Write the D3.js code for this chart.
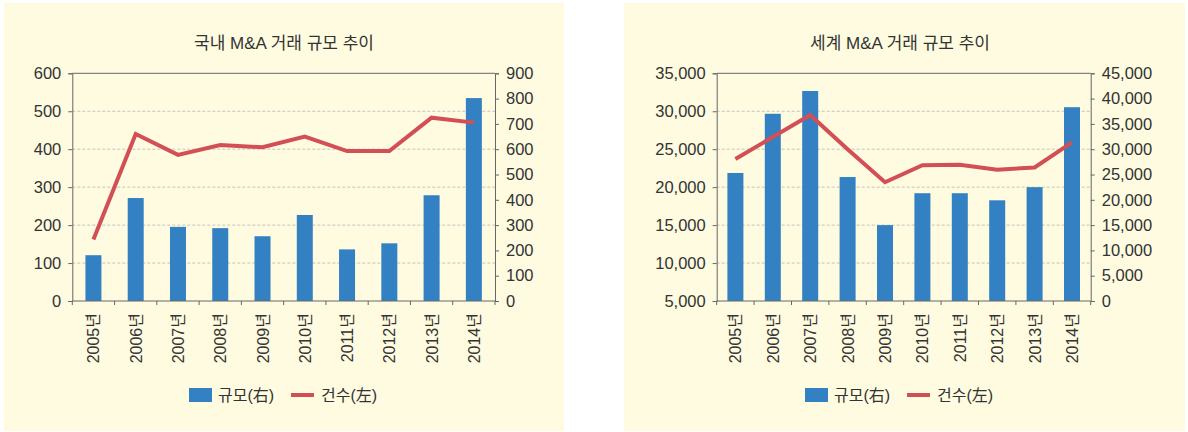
<!DOCTYPE html>
<html>
<head>
<meta charset="utf-8">
<script src="https://cdn.jsdelivr.net/npm/d3@7.9.0/dist/d3.min.js"></script>
<style>
  body { margin: 0; background: #fff; }
  svg { display: block; font-family: "Liberation Sans", "Noto Sans CJK KR", sans-serif; }
  .tick text { fill: #333; }
</style>
</head>
<body>
<svg id="chart" width="1188" height="432"></svg>
<script>
// categories
const years = ['2005년', '2006년', '2007년', '2008년', '2009년', '2010년', '2011년', '2012년', '2013년', '2014년'];

// 국내 M&A
const domesticVolume = [181, 407, 293, 288, 256, 340, 204, 228, 418, 802];   // 규모 (right axis)
const domesticCount = [162, 440, 385, 411, 405, 433, 395, 395, 483, 470];    // 건수 (left axis)

// 세계 M&A
const worldVolume = [25300, 37000, 41500, 24500, 15000, 21300, 21300, 19900, 22500, 38300];
const worldCount = [23700, 26600, 29500, 25000, 20650, 22900, 22950, 22300, 22600, 25900];

// axis tick values
const domesticLeftTicks = [0, 100, 200, 300, 400, 500, 600];
const domesticRightTicks = [0, 100, 200, 300, 400, 500, 600, 700, 800, 900];
const worldLeftTicks = [5000, 10000, 15000, 20000, 25000, 30000, 35000];
const worldRightTicks = [0, 5000, 10000, 15000, 20000, 25000, 30000, 35000, 40000, 45000];

const legendLabels = ['규모(右)', '건수(左)'];

const barColor = '#3381c3';
const lineColor = '#d34f56';
const bgColor = '#fefbe0';
const axisColor = '#666';

const svg = d3.select('#chart');

function drawPanel(opts) {
  const g = svg.append('g');

  // panel background
  g.append('rect')
    .attr('x', opts.panel[0]).attr('y', 3)
    .attr('width', opts.panel[1] - opts.panel[0]).attr('height', 428)
    .attr('fill', bgColor);

  const top = 73.3, bottom = 301;
  const x = d3.scaleBand().domain(years).range([opts.plot[0], opts.plot[1]]).padding(0);
  const yL = d3.scaleLinear().domain(d3.extent(opts.leftTicks)).range([bottom, top]);
  const yR = d3.scaleLinear().domain(d3.extent(opts.rightTicks)).range([bottom, top]);
  const fmt = d3.format(',');

  // title
  g.append('text')
    .attr('x', opts.titleX).attr('y', 49)
    .attr('text-anchor', 'middle')
    .attr('font-size', 17)
    .attr('fill', '#333')
    .text(opts.title);

  // gridlines (left axis ticks)
  g.append('g')
    .selectAll('line')
    .data(opts.leftTicks.slice(1, -1))
    .join('line')
    .attr('x1', opts.plot[0]).attr('x2', opts.plot[1])
    .attr('y1', d => yL(d)).attr('y2', d => yL(d))
    .attr('stroke', '#c4c4c0')
    .attr('stroke-dasharray', '3,2');

  // bars
  const barW = 16;
  g.append('g')
    .selectAll('rect')
    .data(opts.bars)
    .join('rect')
    .attr('x', (d, i) => x(years[i]) + x.bandwidth() / 2 - barW / 2)
    .attr('y', d => yR(d))
    .attr('width', barW)
    .attr('height', d => bottom - yR(d))
    .attr('fill', barColor);

  // line
  const line = d3.line()
    .x((d, i) => x(years[i]) + x.bandwidth() / 2)
    .y(d => yL(d));
  g.append('path')
    .datum(opts.line)
    .attr('d', line)
    .attr('fill', 'none')
    .attr('stroke', lineColor)
    .attr('stroke-width', 4)
    .attr('stroke-linejoin', 'miter');

  // top border
  g.append('line')
    .attr('x1', opts.plot[0]).attr('x2', opts.plot[1])
    .attr('y1', top).attr('y2', top)
    .attr('stroke', axisColor);

  // left axis
  const left = g.append('g')
    .attr('transform', `translate(${opts.plot[0]},0)`)
    .call(d3.axisLeft(yL).tickValues(opts.leftTicks).tickFormat(fmt).tickSize(4).tickPadding(7));
  // right axis
  const right = g.append('g')
    .attr('transform', `translate(${opts.plot[1]},0)`)
    .call(d3.axisRight(yR).tickValues(opts.rightTicks).tickFormat(fmt).tickSize(4).tickPadding(7));
  [left, right].forEach(a => {
    a.selectAll('path, line').attr('stroke', axisColor);
    a.selectAll('text').attr('font-size', 16.5).attr('fill', '#333');
  });

  // bottom axis: ticks on band boundaries
  g.append('line')
    .attr('x1', opts.plot[0]).attr('x2', opts.plot[1])
    .attr('y1', bottom).attr('y2', bottom)
    .attr('stroke', axisColor);
  g.append('g')
    .selectAll('line')
    .data(d3.range(years.length + 1))
    .join('line')
    .attr('x1', i => opts.plot[0] + i * x.step())
    .attr('x2', i => opts.plot[0] + i * x.step())
    .attr('y1', bottom).attr('y2', bottom + 4)
    .attr('stroke', axisColor);
  g.append('g')
    .selectAll('text')
    .data(years)
    .join('text')
    .attr('transform', d => `translate(${x(d) + x.bandwidth() / 2 + 6},${bottom + 12}) rotate(-90)`)
    .attr('text-anchor', 'end')
    .attr('font-size', 16)
    .attr('fill', '#333')
    .text(d => d);

  // legend
  const lx = opts.titleX - 95, ly = 395;
  g.append('rect')
    .attr('x', lx).attr('y', ly - 7)
    .attr('width', 23).attr('height', 14)
    .attr('fill', barColor);
  g.append('text')
    .attr('x', lx + 29).attr('y', ly + 6)
    .attr('font-size', 16).attr('fill', '#333')
    .text(legendLabels[0]);
  g.append('line')
    .attr('x1', lx + 102).attr('x2', lx + 125)
    .attr('y1', ly).attr('y2', ly)
    .attr('stroke', lineColor).attr('stroke-width', 4);
  g.append('text')
    .attr('x', lx + 132).attr('y', ly + 6)
    .attr('font-size', 16).attr('fill', '#333')
    .text(legendLabels[1]);
}

drawPanel({
  panel: [4, 564],
  plot: [72.3, 495],
  titleX: 284,
  title: '국내 M&A 거래 규모 추이',
  leftTicks: domesticLeftTicks,
  rightTicks: domesticRightTicks,
  bars: domesticVolume,
  line: domesticCount
});

drawPanel({
  panel: [624, 1185],
  plot: [716.7, 1090.7],
  titleX: 900,
  title: '세계 M&A 거래 규모 추이',
  leftTicks: worldLeftTicks,
  rightTicks: worldRightTicks,
  bars: worldVolume,
  line: worldCount
});
</script>
</body>
</html>
